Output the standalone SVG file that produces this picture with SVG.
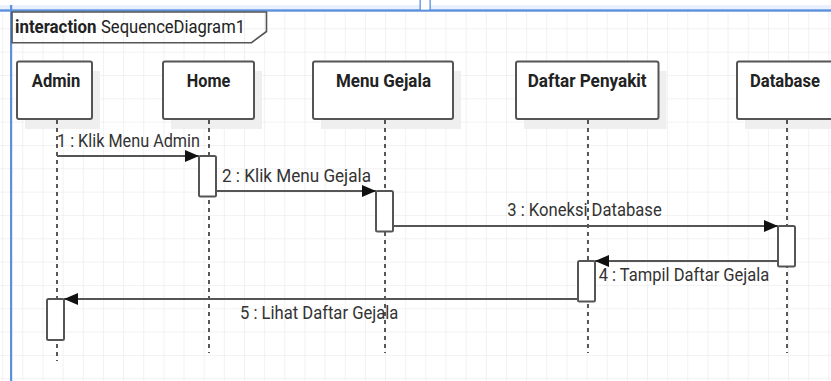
<svg xmlns="http://www.w3.org/2000/svg" width="831" height="381" viewBox="0 0 831 381">
  <defs>
    <pattern id="grid" patternUnits="userSpaceOnUse" x="2.2" y="5" width="20.15" height="23.33">
      <path d="M0 0 H20.15 M0 0 V23.33" fill="none" stroke="#eeeeee" stroke-width="1.6"/>
    </pattern>
    <marker id="arrow" markerUnits="userSpaceOnUse" markerWidth="14" markerHeight="12" refX="14" refY="6" orient="auto">
      <path d="M0 0 L14 6 L0 12 Z" fill="#111"/>
    </marker>
    <style>
      .box { fill: #fff; stroke: #555; stroke-width: 2; }
      .shadow { fill: #efefef; }
      .act { fill: #fff; stroke: #555; stroke-width: 2; }
      .life { stroke: #222; stroke-width: 1.5; stroke-dasharray: 4 4; fill: none; }
      .name { font-family: Roboto, "Liberation Sans", sans-serif; font-weight: bold; font-size: 18.5px; fill: #222; text-anchor: middle; }
      .msg { stroke: #555; stroke-width: 2; fill: none; marker-end: url(#arrow); }
      .lbl { font-family: Roboto, "Liberation Sans", sans-serif; font-size: 17.5px; fill: #333; }
      .frame { fill: none; stroke: #555; stroke-width: 1.6; }
      .ftxt { font-family: Roboto, "Liberation Sans", sans-serif; font-size: 18px; fill: #222; }
    </style>
  </defs>

  <!-- canvas -->
  <rect x="0" y="0" width="831" height="381" fill="#fff"/>
  <rect x="0" y="12" width="831" height="369" fill="url(#grid)"/>

  <!-- page edges -->
  <rect x="0" y="5" width="831" height="4.5" fill="#e8f1fd"/>
  <rect x="0" y="9.3" width="831" height="2.4" fill="#5b90dd"/>
  <rect x="10" y="5" width="2.2" height="376" fill="#5b90dd"/>
  <rect x="420.5" y="0" width="9" height="9.5" fill="#fff"/>
  <rect x="419.5" y="0" width="1.3" height="10" fill="#5b90dd"/>
  <rect x="429.5" y="0" width="1.3" height="10" fill="#5b90dd"/>

  <!-- interaction frame -->
  <g id="frame">
    <path class="frame" d="M12 12 H266.5 V31.5 L251.5 42.7 H12 Z"/>
    <text class="ftxt" x="15" y="33" font-weight="bold" textLength="81.5" lengthAdjust="spacingAndGlyphs">interaction</text>
    <text class="ftxt" x="101" y="33" textLength="144" lengthAdjust="spacingAndGlyphs">SequenceDiagram1</text>
  </g>

  <!-- lifelines -->
  <g id="admin">
    <rect class="shadow" x="25" y="71" width="75" height="58"/>
    <rect class="box" x="17" y="61.5" width="75" height="57.5" rx="2"/>
    <text class="name" x="56" y="86.5" textLength="48.5" lengthAdjust="spacingAndGlyphs">Admin</text>
    <line class="life" x1="57" y1="120" x2="57" y2="361"/>
    <rect class="act" x="47" y="299" width="17" height="41" rx="1.5"/>
  </g>

  <g id="home">
    <rect class="shadow" x="171" y="71" width="91" height="58"/>
    <rect class="box" x="163" y="61.5" width="91" height="57.5" rx="2"/>
    <text class="name" x="208.5" y="86.5" textLength="43.5" lengthAdjust="spacingAndGlyphs">Home</text>
    <line class="life" x1="209" y1="120" x2="209" y2="353"/>
    <rect class="act" x="199" y="156" width="17" height="40.5" rx="1.5"/>
  </g>

  <g id="menuGejala">
    <rect class="shadow" x="321" y="71" width="140" height="58"/>
    <rect class="box" x="313" y="61.5" width="140" height="57.5" rx="2"/>
    <text class="name" x="383.5" y="86.5" textLength="95" lengthAdjust="spacingAndGlyphs">Menu Gejala</text>
    <line class="life" x1="385" y1="120" x2="385" y2="353"/>
    <rect class="act" x="376" y="191" width="17" height="40.5" rx="1.5"/>
  </g>

  <g id="daftarPenyakit">
    <rect class="shadow" x="524" y="71" width="142.5" height="58"/>
    <rect class="box" x="516" y="61.5" width="142.5" height="57.5" rx="2"/>
    <text class="name" x="587.2" y="86.5" textLength="119" lengthAdjust="spacingAndGlyphs">Daftar Penyakit</text>
    <line class="life" x1="588" y1="120" x2="588" y2="353"/>
    <rect class="act" x="578" y="261" width="17" height="40.5" rx="1.5"/>
  </g>

  <g id="database">
    <rect class="shadow" x="745" y="71" width="100" height="58"/>
    <rect class="box" x="737" y="61.5" width="100" height="57.5" rx="2"/>
    <text class="name" x="785" y="86.5" textLength="70" lengthAdjust="spacingAndGlyphs">Database</text>
    <line class="life" x1="787" y1="120" x2="787" y2="353"/>
    <rect class="act" x="778" y="226" width="17" height="40.5" rx="1.5"/>
  </g>

  <!-- messages -->
  <g id="connectors">
    <line class="msg" x1="57" y1="156" x2="199" y2="156"/>
    <text class="lbl" x="57" y="147" textLength="143" lengthAdjust="spacingAndGlyphs">1 : Klik Menu Admin</text>

    <line class="msg" x1="216" y1="191" x2="376" y2="191"/>
    <text class="lbl" x="222" y="181.7" textLength="149" lengthAdjust="spacingAndGlyphs">2 : Klik Menu Gejala</text>

    <line class="msg" x1="393" y1="226" x2="778" y2="226"/>
    <text class="lbl" x="507.3" y="216" textLength="154.4" lengthAdjust="spacingAndGlyphs">3 : Koneksi Database</text>

    <line class="msg" x1="778" y1="261" x2="595" y2="261"/>
    <text class="lbl" x="598.7" y="281" textLength="170.6" lengthAdjust="spacingAndGlyphs">4 : Tampil Daftar Gejala</text>

    <line class="msg" x1="578" y1="299" x2="64" y2="299"/>
    <text class="lbl" x="240" y="319.3" textLength="158.3" lengthAdjust="spacingAndGlyphs">5 : Lihat Daftar Gejala</text>
  </g>
</svg>
